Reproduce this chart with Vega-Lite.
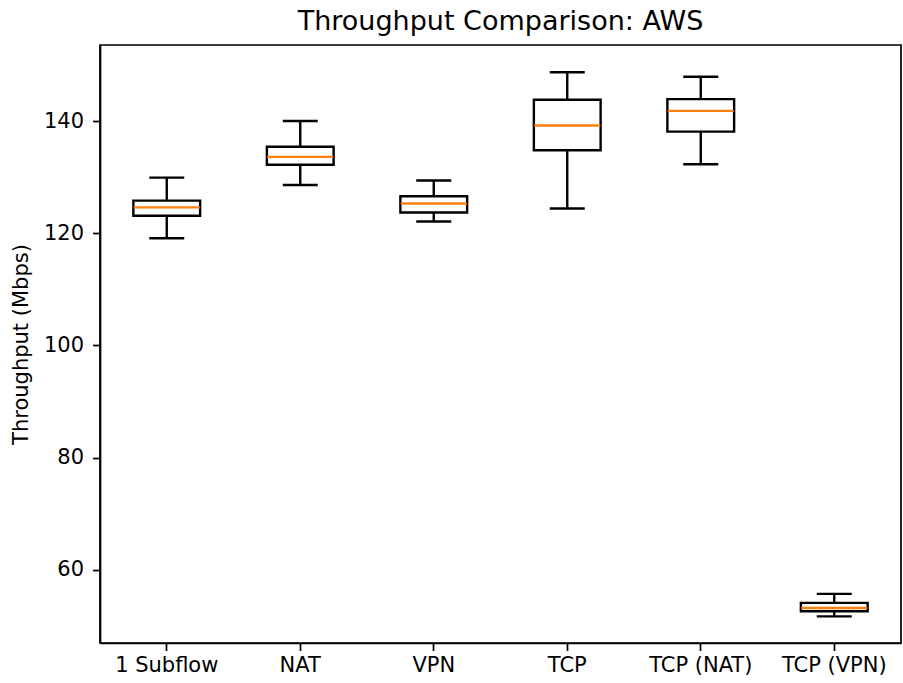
{
  "$schema": "https://vega.github.io/schema/vega-lite/v6.json",
  "autosize": "none",
  "padding": {"left": 100, "top": 45, "right": 2, "bottom": 40},
  "width": 801,
  "height": 598,
  "background": "white",
  "title": {"text": "Throughput Comparison: AWS", "fontSize": 27, "fontWeight": "normal", "font": "DejaVu Sans", "color": "black", "offset": 9},
  "config": {
    "view": {"stroke": "black", "strokeWidth": 1.7},
    "axis": {"grid": false, "domainColor": "black", "tickColor": "black", "labelColor": "black", "titleColor": "black", "labelFont": "DejaVu Sans", "titleFont": "DejaVu Sans", "labelFontSize": 21, "titleFontSize": 21, "titleFontWeight": "normal", "tickSize": 7.5, "domainWidth": 1.7, "tickWidth": 1.7}
  },
  "data": {"values": [
    {"cat": "1 Subflow", "wlo": 119.1, "q1": 123.1, "med": 124.6, "q3": 125.8, "whi": 129.9},
    {"cat": "NAT", "wlo": 128.6, "q1": 132.2, "med": 133.6, "q3": 135.4, "whi": 140.0},
    {"cat": "VPN", "wlo": 122.1, "q1": 123.7, "med": 125.3, "q3": 126.6, "whi": 129.4},
    {"cat": "TCP", "wlo": 124.4, "q1": 134.8, "med": 139.2, "q3": 143.8, "whi": 148.7},
    {"cat": "TCP (NAT)", "wlo": 132.3, "q1": 138.1, "med": 141.8, "q3": 143.9, "whi": 147.9},
    {"cat": "TCP (VPN)", "wlo": 51.7, "q1": 52.6, "med": 53.2, "q3": 54.1, "whi": 55.7}
  ]},
  "encoding": {
    "x": {"field": "cat", "type": "nominal", "sort": null, "title": null,
          "scale": {"paddingInner": 0, "paddingOuter": 0},
          "axis": {"labelAngle": 0, "labelPadding": 4}}
  },
  "layer": [
    {"mark": {"type": "rule", "color": "black", "strokeWidth": 2.4},
     "encoding": {"y": {"field": "wlo", "type": "quantitative", "title": "Throughput (Mbps)",
        "scale": {"domain": [46.95, 153.55], "nice": false, "zero": false},
        "axis": {"values": [60, 80, 100, 120, 140], "titlePadding": 12, "labelPadding": 9}},
        "y2": {"field": "whi"}}},
    {"mark": {"type": "bar", "fill": "white", "stroke": "black", "strokeWidth": 2.4, "width": {"band": 0.5}},
     "encoding": {"y": {"field": "q1", "type": "quantitative"}, "y2": {"field": "q3"}}},
    {"mark": {"type": "tick", "color": "#ff7f0e", "opacity": 1, "size": 66, "thickness": 2.4},
     "encoding": {"y": {"field": "med", "type": "quantitative"}}},
    {"mark": {"type": "tick", "color": "black", "opacity": 1, "size": 35, "thickness": 2.4},
     "encoding": {"y": {"field": "wlo", "type": "quantitative"}}},
    {"mark": {"type": "tick", "color": "black", "opacity": 1, "size": 35, "thickness": 2.4},
     "encoding": {"y": {"field": "whi", "type": "quantitative"}}}
  ]
}
